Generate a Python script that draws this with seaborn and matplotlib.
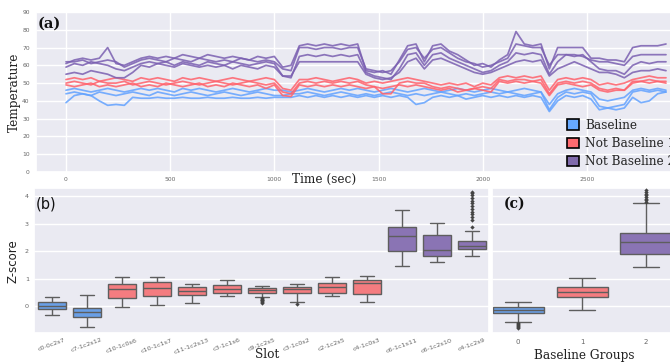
import numpy as np
import pandas as pd
import matplotlib
matplotlib.use("Agg")
import matplotlib.pyplot as plt
import seaborn as sns
from matplotlib.patches import Patch

sns.set_theme(style="darkgrid")
plt.rcParams['font.family'] = ['DejaVu Sans']

# ---------------- data: panel (a) time series ----------------
TIME = list(range(0, 2881, 40))  # sample times (sec)

B1 = [46,47,46,45,46,47,46,45,46,47,46,47,46,45,47,46,47,46,45,46,47,46,45,46,47,46,
      46,45,
      46,47,46,45,46,47,46,47,
      46,45,46,47,46,45,46,47,46,45,46,47,46,45,46,47,
      46,45,46,47,46,45,
      38,44,
      46,47,46,45,
      41,40,41,42,
      46,47,46,47,46]
B2 = [44,45,44,43,45,44,43,44,45,44,43,45,44,43,44,45,44,43,44,45,44,43,44,45,44,43,
      43,44,
      44,45,44,43,44,45,44,43,
      44,43,44,45,44,43,44,43,44,45,44,43,44,43,44,45,
      44,45,44,43,44,45,
      35,42,
      45,44,45,44,
      37,36,37,38,
      45,46,45,46,45]
B3 = [39,43,44,43,40,37.5,38,37.5,42,41.5,
      41.5,42,41.5,41.5,42,41.5,41.5,42,41.5,41.5,42,41.5,41.5,42,41.5,42,
      42,42,
      43,42,43,42,43,42,43,42,
      43,42,43,42,43,42,38,39,42,43,42,43,41,42,43,42,
      43,42,43,42,43,42,
      34,40,
      43,42,43,41,
      35,36,35,36,
      42,39,40,44,45]
R1 = [52,53,52,53,51,52,53,52,51,53,52,53,52,51,53,52,53,52,51,52,53,52,51,52,53,52,
      47,46,
      52,52,53,52,51,52,53,52,
      50,51,50,51,
      52,53,52,51,
      50,49,50,49,50,48,50,49,
      53,54,53,54,53,54,
      46,
      52,53,52,53,52,
      49,50,49,50,
      52,53,54,53,53]
R2 = [50,51,50,49,51,50,50,51,49,50,51,50,49,50,51,50,49,50,51,50,49,50,51,50,49,50,
      45,44,
      50,51,50,51,50,51,50,51,
      49,48,44,44,
      50,51,50,50,
      48,47,48,47,46,47,48,47,
      52,51,52,52,51,52,
      44,
      50,51,50,51,50,
      47,46,47,46,
      51,51,52,51,51]
R3 = [49,48,49,50,48,49,48,49,50,48,49,48,50,49,48,49,50,48,49,48,50,49,48,49,47,49,
      43,42.5,
      49,48,49,48,49,48,49,48,
      47,48,47,48,
      49,48,49,48,
      47,46,47,45,46,47,46,45,
      51,50,51,50,51,50,
      43,
      49,50,49,48,49,
      46,45,46,46,
      50,51,50,51,50]
P1 = [61,63,64,63,64,70,61,60,62,64,
      65,64,65,64,66,65,64,66,65,64,65,64,63,65,64,65,
      59,60,
      71,72,71,72,71,72,71,72,
      57,56,57,55,
      63,71,72,62,
      71,72,68,66,63,60,61,59,
      63,66,79,72,71,72,
      58,
      70,70,70,70,64,
      64,63,63,62,
      70,71,71,71,72]
P2 = [59,61,60,62,61,60,58,57,59,61,62,61,62,60,62,61,60,62,61,60,62,61,60,61,62,61,
      54,53,
      65,66,65,66,65,66,65,66,
      56,54,53,52,
      58,66,67,60,
      66,67,64,62,60,58,56,57,
      60,62,67,66,67,66,
      55,
      62,66,65,66,62,
      58,57,57,55,
      60,62,61,62,62]
P3 = [55,56,55,57,56,55,53,53,56,60,59,61,60,59,61,60,59,60,59,60,58,60,59,58,60,59,
      54,54,
      62,62,62,62,62,62,62,62,
      55,53,52,53,
      56,62,64,58,
      63,64,62,60,58,56,55,56,
      58,60,62,63,62,63,
      54,
      58,60,62,60,58,
      56,56,55,53,
      56,57,57,58,57]
P4 = [62,62,63,61,62,63,62,59,61,63,64,63,62,64,63,62,64,63,62,63,62,64,63,62,63,62,
      58,57,
      70,70,69,70,70,69,70,70,
      58,57,56,57,
      62,69,70,64,
      69,70,67,64,62,61,59,60,
      62,64,72,71,70,70,
      60,
      66,66,66,65,63,
      62,62,61,60,
      65,66,66,66,66]

GROUP_NAMES = ["Baseline", "Not Baseline 1", "Not Baseline 2"]
SERIES = {"B1": (0, B1), "B2": (0, B2), "B3": (0, B3),
          "R1": (1, R1), "R2": (1, R2), "R3": (1, R3),
          "P1": (2, P1), "P2": (2, P2), "P3": (2, P3), "P4": (2, P4)}

# ---------------- data: panel (b) slot z-scores ----------------
SLOTS = ["c0-0c2s7", "c7-1c2s12", "c10-1c0s6", "c10-1c1s7", "c11-1c2s13", "c3-1c1s6",
         "c9-1c2s5", "c3-1c0s2", "c2-1c2s5", "c4-1c0s3", "c6-1c1s11", "c6-1c2s10", "c4-1c2s9"]
SLOT_GROUP = [0, 0, 1, 1, 1, 1, 1, 1, 1, 1, 2, 2, 2]
SLOT_LOW = [-0.32, -0.77, -0.05, 0.04, 0.09, 0.38, 0.32, 0.15, 0.38, 0.13, 1.47, 1.59, 1.81]
SLOT_Q1 = [-0.13, -0.40, 0.29, 0.35, 0.39, 0.46, 0.49, 0.46, 0.49, 0.43, 2.00, 1.84, 2.08]
SLOT_MED = [-0.02, -0.23, 0.61, 0.66, 0.54, 0.61, 0.57, 0.61, 0.68, 0.82, 2.54, 2.05, 2.18]
SLOT_Q3 = [0.13, -0.06, 0.80, 0.87, 0.68, 0.76, 0.65, 0.70, 0.82, 0.94, 2.87, 2.59, 2.36]
SLOT_HIGH = [0.34, 0.39, 1.04, 1.06, 0.80, 0.96, 0.74, 0.80, 1.05, 1.10, 3.50, 3.02, 2.75]
SLOT_OUTLIERS = {
    "c9-1c2s5": [0.29, 0.26, 0.23, 0.20, 0.17, 0.14, 0.12],
    "c3-1c0s2": [0.07],
    "c4-1c2s9": [2.87, 3.14, 3.25, 3.35, 3.45, 3.55, 3.65, 3.75, 3.85, 3.95, 4.05, 4.12, 4.17],
}

# ---------------- data: panel (c) baseline groups ----------------
GROUPS = ["0", "1", "2"]
GRP_LOW = [-0.59, -0.15, 1.41]
GRP_Q1 = [-0.27, 0.33, 1.90]
GRP_MED = [-0.16, 0.51, 2.35]
GRP_Q3 = [-0.04, 0.71, 2.68]
GRP_HIGH = [0.16, 1.02, 3.76]
GRP_OUTLIERS = {
    "0": [-0.62, -0.66, -0.70, -0.74, -0.78, -0.82],
    "2": [3.80, 3.86, 3.92, 3.98, 4.04, 4.10, 4.16, 4.22],
}

# ---------------- styles ----------------
LINE_COLORS = ["#62a2ff", "#ff616b", "#7a5fb1"]
LEGEND_COLORS = ["#66a9ff", "#ff6b70", "#7f6aab"]
BOX_COLORS = ["#6a9fe6", "#f47c80", "#8a74b4"]
SERIF = "DejaVu Serif"
TICK_COLOR = "#666666"

W, H = 670, 362
fig = plt.figure(figsize=(W / 100, H / 100), dpi=100)


def rect(l, t, r, b):
    return [l / W, 1 - b / H, (r - l) / W, (b - t) / H]


ax_a = fig.add_axes(rect(36, 12, 696, 172))
ax_b = fig.add_axes(rect(34, 188, 489, 333.3))
ax_c = fig.add_axes(rect(492, 188, 678, 333.3))

# ---------------- panel (a) ----------------
rows = []
for name, (g, vals) in SERIES.items():
    for t, v in zip(TIME, vals):
        rows.append((name, t, v))
ts = pd.DataFrame(rows, columns=["series", "time", "temp"])
pal_series = {name: LINE_COLORS[g] for name, (g, _) in SERIES.items()}
sns.lineplot(data=ts, x="time", y="temp", hue="series", palette=pal_series,
             estimator=None, legend=False, linewidth=1.25, alpha=0.85, ax=ax_a)
ax_a.set_xlim(-144, 3024)
ax_a.set_ylim(0, 90)
ax_a.set_yticks(range(0, 91, 10))
ax_a.set_xticks(range(0, 2501, 500))
ax_a.tick_params(axis="both", length=0, labelsize=4.3, labelcolor=TICK_COLOR)
ax_a.tick_params(axis="y", pad=4.5)
ax_a.tick_params(axis="x", pad=3.5)
ax_a.set_ylabel("Temperature", family=SERIF, fontsize=8.7, color="#222222")
ax_a.yaxis.set_label_coords(-0.023, 0.5)
ax_a.set_xlabel("Time (sec)", family=SERIF, fontsize=8.7, color="#222222")
ax_a.xaxis.set_label_coords(0.436, -0.006)
ax_a.text(0.002, 0.97, "(a)", transform=ax_a.transAxes, ha="left", va="top",
          family=SERIF, fontsize=10.5, fontweight="bold", color="#111111")
handles = [Patch(facecolor=c, edgecolor="black", linewidth=1.2, label=n)
           for c, n in zip(LEGEND_COLORS, GROUP_NAMES)]
ax_a.legend(handles=handles, loc="upper left", bbox_to_anchor=(0.796, 0.37),
            frameon=False, borderpad=0, handlelength=0.95, handleheight=0.95,
            handletextpad=0.5, labelspacing=0.42,
            prop={"family": SERIF, "size": 8.7})

# ---------------- panel (b) ----------------
rows = []
for i, s in enumerate(SLOTS):
    for v in (SLOT_LOW[i], SLOT_Q1[i], SLOT_MED[i], SLOT_Q3[i], SLOT_HIGH[i]):
        rows.append((s, v))
df_b = pd.DataFrame(rows, columns=["slot", "z"])
pal_slot = {s: BOX_COLORS[g] for s, g in zip(SLOTS, SLOT_GROUP)}
sns.boxplot(data=df_b, x="slot", y="z", hue="slot", order=SLOTS, hue_order=SLOTS,
            palette=pal_slot, whis=(0, 100), width=0.8, saturation=1,
            linecolor="#5e5e5e", linewidth=1.0, showfliers=False, legend=False, ax=ax_b)
out_rows = [(s, v) for s, vals in SLOT_OUTLIERS.items() for v in vals]
df_bo = pd.DataFrame(out_rows, columns=["slot", "z"])
sns.stripplot(data=df_bo, x="slot", y="z", order=SLOTS, jitter=False, marker="D",
              size=2.2, color="#444444", ax=ax_b)
ax_b.set_ylim(-1.0, 4.31)
ax_b.set_yticks(range(0, 5))
ax_b.set_xlim(-0.5, len(SLOTS) - 0.5)
ax_b.tick_params(axis="both", length=0, labelsize=4.6, labelcolor=TICK_COLOR)
ax_b.tick_params(axis="y", pad=3.6)
ax_b.tick_params(axis="x", rotation=20, pad=3)
ax_b.set_ylabel("Z-score", fontsize=8.5, color="#222222")
ax_b.yaxis.set_label_coords(-0.032, 0.5)
ax_b.set_xlabel("Slot", family=SERIF, fontsize=8.7, color="#222222")
ax_b.xaxis.set_label_coords(0.512, -0.10)
ax_b.text(0.004, 0.94, "(b)", transform=ax_b.transAxes, ha="left", va="top",
          fontsize=10.5, color="#111111")

# ---------------- panel (c) ----------------
rows = []
for i, g in enumerate(GROUPS):
    for v in (GRP_LOW[i], GRP_Q1[i], GRP_MED[i], GRP_Q3[i], GRP_HIGH[i]):
        rows.append((g, v))
df_c = pd.DataFrame(rows, columns=["grp", "z"])
pal_grp = {g: BOX_COLORS[i] for i, g in enumerate(GROUPS)}
sns.boxplot(data=df_c, x="grp", y="z", hue="grp", order=GROUPS, hue_order=GROUPS,
            palette=pal_grp, whis=(0, 100), width=0.8, saturation=1,
            linecolor="#5e5e5e", linewidth=1.0, showfliers=False, legend=False, ax=ax_c)
out_rows = [(g, v) for g, vals in GRP_OUTLIERS.items() for v in vals]
df_co = pd.DataFrame(out_rows, columns=["grp", "z"])
sns.stripplot(data=df_co, x="grp", y="z", order=GROUPS, jitter=False, marker="D",
              size=2.2, color="#444444", ax=ax_c)
ax_c.set_xlim(-0.41, 2.5)
ax_c.set_ylim(-1.0, 4.31)
ax_c.set_yticks(range(0, 5))
ax_c.tick_params(axis="both", length=0)
ax_c.tick_params(axis="y", labelleft=False)
ax_c.tick_params(axis="x", labelsize=5, labelcolor=TICK_COLOR, pad=4)
ax_c.set_ylabel("")
ax_c.set_xlabel("Baseline Groups", family=SERIF, fontsize=8.7, color="#222222")
ax_c.xaxis.set_label_coords(0.495, -0.11)
ax_c.text(0.065, 0.94, "(c)", transform=ax_c.transAxes, ha="left", va="top",
          family=SERIF, fontsize=10, fontweight="bold", color="#111111")

fig.savefig("out.png", dpi=100)
